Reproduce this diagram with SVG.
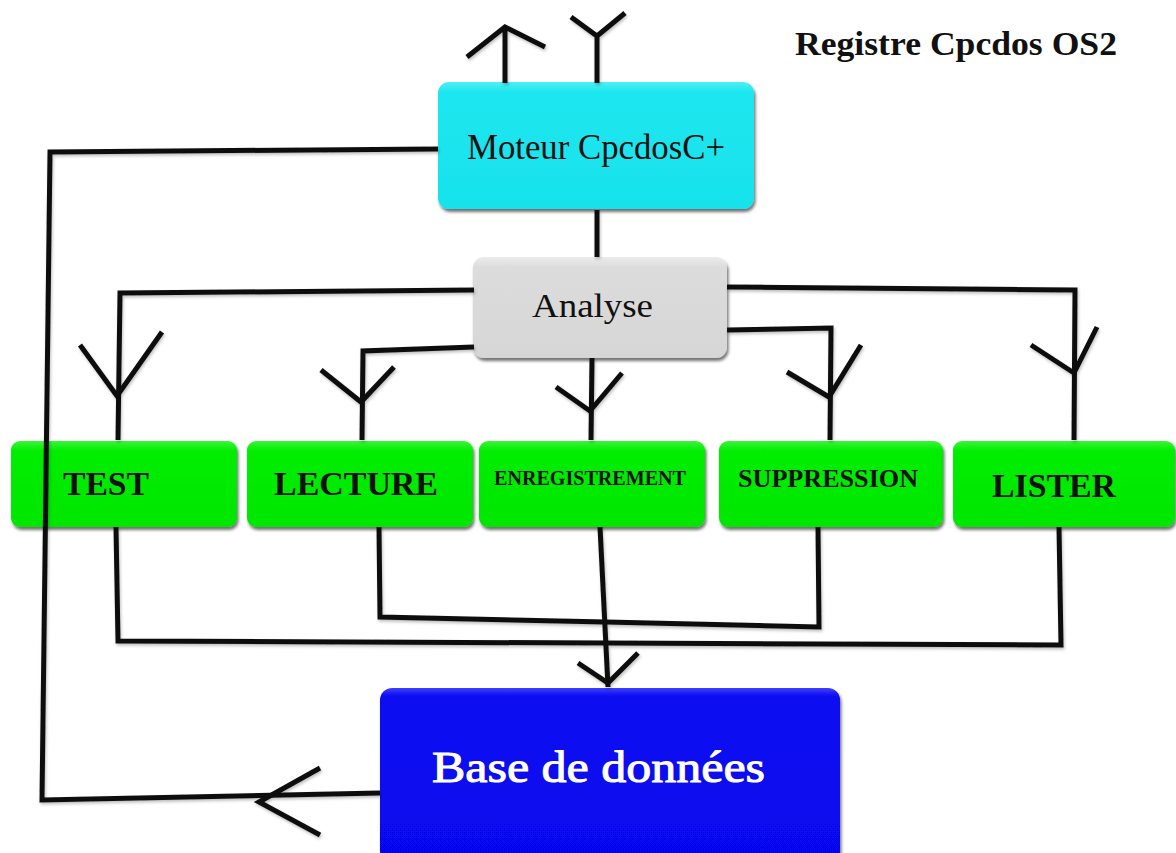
<svg xmlns="http://www.w3.org/2000/svg" width="1176" height="853" viewBox="0 0 1176 853">
<defs>
<filter id="sh" x="-10%" y="-10%" width="120%" height="130%">
<feDropShadow dx="1.5" dy="3" stdDeviation="1.5" flood-color="#000" flood-opacity="0.55"/>
</filter>
<filter id="lsh" x="-5%" y="-5%" width="110%" height="110%">
<feDropShadow dx="1" dy="2" stdDeviation="1.5" flood-color="#000" flood-opacity="0.25"/>
</filter>
<linearGradient id="gc" x1="0" y1="0" x2="0" y2="1">
<stop offset="0" stop-color="#4ff0f5"/><stop offset="0.08" stop-color="#1de6ef"/><stop offset="1" stop-color="#18e2ec"/>
</linearGradient>
<linearGradient id="gg" x1="0" y1="0" x2="0" y2="1">
<stop offset="0" stop-color="#3cf53c"/><stop offset="0.1" stop-color="#06ee06"/><stop offset="1" stop-color="#00e600"/>
</linearGradient>
<linearGradient id="ga" x1="0" y1="0" x2="0" y2="1">
<stop offset="0" stop-color="#ececec"/><stop offset="0.1" stop-color="#dcdcdc"/><stop offset="1" stop-color="#d6d6d6"/>
</linearGradient>
<linearGradient id="gb" x1="0" y1="0" x2="0" y2="1">
<stop offset="0" stop-color="#4040ff"/><stop offset="0.05" stop-color="#0a0af2"/><stop offset="1" stop-color="#0606ee"/>
</linearGradient>
</defs>
<style>
.ln{fill:none;stroke:#111;stroke-width:5;stroke-linejoin:miter;stroke-linecap:butt}
.box{filter:url(#sh)}
.t{font-family:"Liberation Serif","Times New Roman",serif;fill:#111}
.b{font-weight:bold}
</style>
<rect width="1176" height="853" fill="#fff"/>

<g id="moteur">
<rect class="box" x="438" y="82" width="316" height="127" rx="11" fill="url(#gc)"/>
<text class="t" x="467" y="159" font-size="35" textLength="258" lengthAdjust="spacingAndGlyphs">Moteur CpcdosC+</text>
</g>
<g id="analyse">
<rect class="box" x="473" y="257" width="254" height="101" rx="11" fill="url(#ga)"/>
<text class="t" x="532" y="317" font-size="33" textLength="121" lengthAdjust="spacingAndGlyphs">Analyse</text>
</g>
<g id="test">
<rect class="box" x="11" y="441" width="226" height="86" rx="9" fill="url(#gg)"/>
<text class="t b" x="63" y="495" font-size="34" textLength="86" lengthAdjust="spacingAndGlyphs">TEST</text>
</g>
<g id="lecture">
<rect class="box" x="247" y="441" width="226" height="86" rx="9" fill="url(#gg)"/>
<text class="t b" x="274" y="495" font-size="34" textLength="164" lengthAdjust="spacingAndGlyphs">LECTURE</text>
</g>
<g id="enregistrement">
<rect class="box" x="479" y="441" width="226" height="86" rx="9" fill="url(#gg)"/>
<text class="t b" x="494" y="485" font-size="20" textLength="192" lengthAdjust="spacingAndGlyphs">ENREGISTREMENT</text>
</g>
<g id="suppression">
<rect class="box" x="719" y="441" width="224" height="86" rx="9" fill="url(#gg)"/>
<text class="t b" x="738" y="487" font-size="26" textLength="180" lengthAdjust="spacingAndGlyphs">SUPPRESSION</text>
</g>
<g id="lister">
<rect class="box" x="953" y="441" width="222" height="86" rx="9" fill="url(#gg)"/>
<text class="t b" x="992" y="497" font-size="34" textLength="124" lengthAdjust="spacingAndGlyphs">LISTER</text>
</g>
<g id="base">
<rect class="box" x="380" y="688" width="460" height="175" rx="12" fill="url(#gb)"/>
<text class="t" x="432" y="782" font-size="45" style="fill:#fff;stroke:#fff;stroke-width:1" textLength="333" lengthAdjust="spacingAndGlyphs">Base de données</text>
</g>
<g id="title">
<text class="t b" x="795" y="55" font-size="33" textLength="322" lengthAdjust="spacingAndGlyphs">Registre Cpcdos OS2</text>
</g>

<g id="connectors" filter="url(#lsh)">
<path class="ln" d="M505,83 V27 M467,57 L505,27 L545,47"/>
<path class="ln" d="M597,83 V36 M571,17 L597,36 L625,13"/>
<path class="ln" d="M597,210 V257"/>
<path class="ln" d="M438,149 L50,152 L42,800 L380,793"/>
<path class="ln" d="M320,768 L259,802 L320,835"/>
<path class="ln" d="M474,290 L120,293 L118,440"/>
<path class="ln" d="M80,345 L117,396 L162,332"/>
<path class="ln" d="M474,347 L363,351 L362,440"/>
<path class="ln" d="M321,370 L361,402 L394,367"/>
<path class="ln" d="M592,358 L591,440"/>
<path class="ln" d="M556,387 L590,411 L622,373"/>
<path class="ln" d="M727,330 L831,328 L830,440"/>
<path class="ln" d="M787,372 L829,397 L861,345"/>
<path class="ln" d="M727,287 L1075,290 L1074,440"/>
<path class="ln" d="M1031,345 L1074,373 L1097,327"/>
<path class="ln" d="M116,527 L118,641 L1061,645 L1059,527"/>
<path class="ln" d="M379,527 L380,617 L606,622 L819,627 L818,527"/>
<path class="ln" d="M600,527 L608,687"/>
<path class="ln" d="M578,663 L608,683 L638,653"/>
</g>
</svg>
